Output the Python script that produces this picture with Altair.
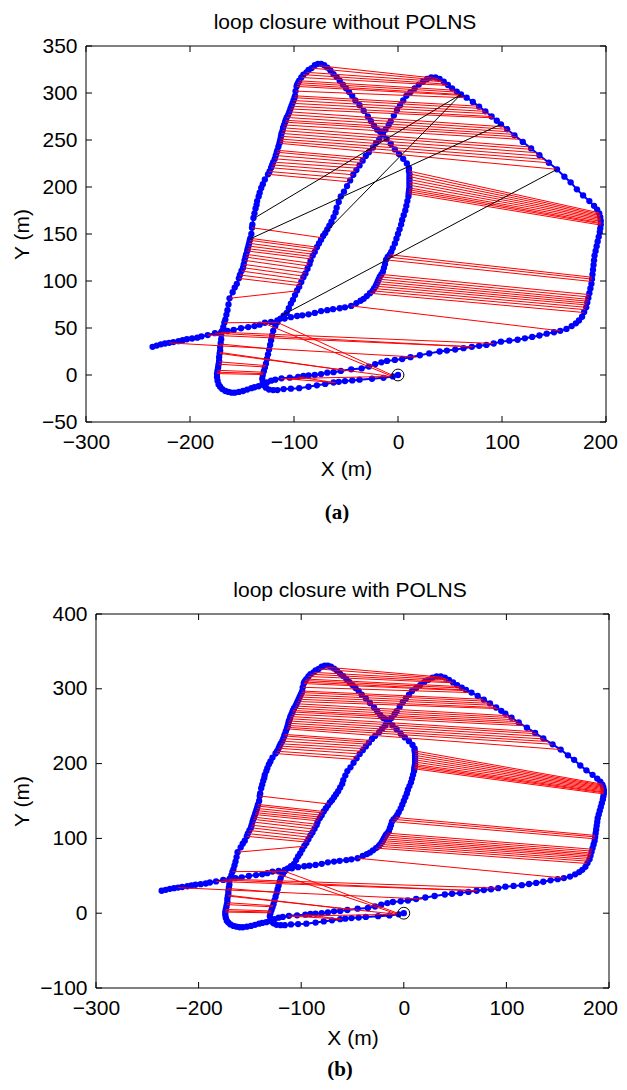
import altair as alt
import pandas as pd

# ---------------- trajectory (ordered segments, metres) ----------------
seg_lower_start = [(0, 0), (-5, -1.5), (-14, -3), (-25, -4), (-37, -5), (-44, -5.8), (-51, -6.5), (-57, -7.3),
                   (-62, -8), (-70, -9.5), (-78, -11), (-86, -12.5), (-95, -14), (-103, -14.5), (-110, -15),
                   (-116, -16), (-120, -16), (-124, -15.5), (-127, -13.5), (-129, -11), (-130, -8), (-130.5, -4)]
seg_hook_hump = [(-130, 0), (-129, 4), (-128, 8), (-127, 12), (-126, 17), (-125, 22), (-124, 27), (-123, 32),
                 (-122, 37), (-121, 42), (-120, 47), (-118, 52), (-116, 56), (-113, 60), (-110, 63), (-107, 66),
                 (-105, 71), (-103, 76), (-101, 80), (-99, 85), (-97, 90), (-95, 94), (-93, 99), (-91, 104),
                 (-89, 108), (-87, 113), (-85, 118), (-84, 122), (-82, 127), (-80, 131), (-78, 136), (-76, 140),
                 (-74, 144), (-72, 148), (-70, 151), (-68, 155), (-66, 159), (-64, 163), (-62, 168), (-60, 173),
                 (-59, 178), (-57, 184), (-55, 190), (-52, 195), (-49, 201), (-46, 207), (-43, 213), (-40, 218),
                 (-37, 223), (-34, 228), (-31, 233), (-28, 237), (-24, 242), (-21, 247), (-18, 251), (-14.5, 256),
                 (-12, 261), (-9, 266), (-7, 270), (-4, 276), (-1, 282), (2, 287), (5, 292), (8, 297), (12, 301),
                 (16, 305), (20, 309), (24, 312), (28, 315), (32, 316.5), (36, 316.5), (40, 315), (44, 312),
                 (48, 308.5)]
seg_right_loop = [(52, 305), (56.5, 301.5), (60.6, 298.6), (66, 295), (72, 290.5), (78, 285.5), (84, 280.5),
                  (90, 275), (95, 270.5), (99, 266.7), (105, 261.4), (112, 255), (120, 248), (128, 241),
                  (136, 233.8), (145, 225.8), (152.9, 218.8), (160, 211), (166, 205), (172, 197.5), (178, 191),
                  (184, 185), (188.5, 180), (191.5, 176), (193.5, 172), (194.5, 168), (195, 164), (195, 160),
                  (194.5, 156), (194, 152), (193, 147), (192, 142), (191, 137), (190, 132), (189, 127),
                  (188.5, 122), (188, 117), (187.5, 112), (187, 107), (186.5, 102), (186, 97), (185, 92),
                  (184, 87), (183, 82), (182, 77), (181, 72), (179, 67), (177, 62), (174, 58), (171, 55),
                  (167, 52), (162, 49), (156, 47), (150, 45.5), (143, 44), (136, 42), (129, 40.5), (122, 39),
                  (115, 37.5), (107, 36.5), (99, 35.5), (92, 33.5), (85, 32), (78, 31), (71, 30), (63, 28.5),
                  (55, 27), (47, 26), (40, 25), (30, 23), (21, 21), (12, 19), (4, 17), (-3, 16), (-10.6, 15),
                  (-16, 13.5), (-22, 11.4), (-28, 9), (-35, 7), (-45, 6), (-55, 4.3), (-62, 3), (-68, 2.5),
                  (-74, 1), (-80, 0), (-86, -0.5), (-91, -1), (-96, -2), (-104, -2.8), (-112, -3.5), (-118, -5),
                  (-122, -6), (-126, -8), (-130, -10), (-134, -12), (-138, -13), (-141, -14)]
seg_left_outer = [(-145, -15.5), (-149, -17), (-153, -18), (-157, -18.8), (-160, -18.8), (-163, -18), (-166, -17),
                  (-169, -15), (-171, -12.5), (-172.5, -10), (-173.5, -6), (-174, -2), (-174, 1.5), (-173.5, 5),
                  (-173, 8), (-172.5, 11.5), (-172, 15), (-172, 19), (-171.5, 23), (-171, 26), (-171, 30),
                  (-170.5, 34), (-170, 38), (-170, 43), (-169, 47), (-168, 51), (-167, 55.6), (-166, 59),
                  (-165, 64), (-164, 69), (-163, 75), (-162, 81.6), (-159, 88), (-157, 93), (-155, 97),
                  (-153, 102.8), (-152, 106.4), (-150.5, 110.6), (-149, 114.2), (-148.3, 117.7), (-147.5, 122),
                  (-146.7, 125.5), (-146, 128.4), (-145, 131.9), (-144.5, 134.4), (-143.8, 137.2),
                  (-143.2, 140.1), (-142.5, 143.3), (-142, 145.4), (-141, 150), (-140.4, 156.7), (-140, 160),
                  (-139, 167), (-138, 172), (-137, 177), (-136, 181), (-135.5, 185), (-134, 190), (-133, 194),
                  (-131.5, 199), (-130, 203), (-128, 208), (-125, 213.5), (-123.5, 216.5), (-122, 220.5),
                  (-121, 223.5), (-120, 226.5), (-118.5, 230), (-117.5, 233.5), (-116.5, 237), (-116, 239),
                  (-115, 243), (-114, 246.5), (-113.5, 248.5), (-113, 251), (-112.5, 254), (-112, 257),
                  (-111, 260), (-110.5, 263), (-109.5, 266), (-108.5, 269), (-108, 271), (-107, 274),
                  (-105.5, 277), (-104.5, 280), (-103.5, 283), (-102.5, 286), (-101.5, 289), (-100.5, 292),
                  (-99.5, 295), (-99, 297), (-98.5, 302), (-97.5, 307), (-97, 309), (-96, 311), (-95, 313),
                  (-93, 316.5), (-91, 319.5), (-88, 322), (-86, 324.5), (-83, 326.5), (-80, 329.5), (-77, 331),
                  (-74, 331), (-71, 329.5)]
seg_inner_tail = [(-68, 327), (-65, 324), (-62, 320), (-59, 317), (-56, 313), (-53, 309), (-50, 305), (-47, 301),
                  (-44, 297), (-41, 292), (-37, 287), (-33, 281), (-29, 275), (-26, 270), (-23, 265), (-20, 261),
                  (-17, 258.5), (-14.5, 256), (-11, 251), (-7, 246), (-3, 240), (1, 235), (5, 230), (8.5, 225),
                  (10.5, 220), (10.5, 217), (11, 214), (11, 211), (11, 208), (11, 205), (11, 202), (11, 199),
                  (10.7, 197), (10.5, 195), (10.3, 193), (10, 190), (9, 185), (8, 180), (7, 175), (5.5, 170),
                  (4, 165), (3, 160), (1.5, 155), (0, 150), (-1.5, 145), (-3, 140), (-5, 135), (-6.5, 131),
                  (-8, 128), (-10, 125.5), (-11.5, 122.5), (-12.5, 118), (-13.5, 114), (-14.5, 110), (-16, 107),
                  (-17.5, 104.5), (-18.5, 102), (-19.5, 99.5), (-20.5, 97), (-21.5, 94.5), (-23, 92),
                  (-24.5, 89.5), (-27, 87), (-30, 84), (-33, 81), (-36, 79), (-40, 76.5), (-45, 73.5), (-51, 72),
                  (-56, 71), (-62.5, 70), (-68, 69), (-74, 68), (-80, 66), (-86, 64.5), (-92, 63.5), (-97, 62.8),
                  (-103, 61.5), (-109, 60), (-116, 58), (-122, 56.5), (-128, 55.6), (-133, 53.5), (-138, 52),
                  (-144, 51), (-151, 49.7), (-158, 48), (-164, 46.8), (-170, 45.5), (-176, 44.5), (-183, 42.5),
                  (-189, 41), (-193, 39.7), (-198, 38.8), (-203, 38), (-207, 37), (-211, 36), (-216, 35),
                  (-220, 34.2), (-224, 33.5), (-228, 32.6), (-232, 31.3), (-236, 30)]

# ---------------- loop-closure links (x1, y1, x2, y2) ----------------
links_top = [(-76, 329, 38, 315.5), (-83, 326.5, 41, 313.5), (-88, 322, 43, 312), (-91, 319.5, 46, 309.5),
             (-93, 316.5, 48, 308), (-95, 313, 54, 303), (-96, 311, 56, 301), (-97, 309, 59, 298.5),
             (-97.5, 307, 61, 297.5), (-98.5, 302, 64, 295), (-99, 297, 77, 286), (-99.5, 295, 80, 283.5),
             (-100.5, 292, 84, 280.5), (-101.5, 289, 87, 278), (-102.5, 286, 90, 275), (-103.5, 283, 92, 273.5),
             (-104.5, 280, 102, 264), (-105.5, 277, 105, 261.4), (-107, 274, 108, 258.7), (-108, 271, 111, 256),
             (-108.5, 269, 114, 253.4), (-109.5, 266, 117, 250.7), (-110.5, 263, 126, 242.7),
             (-111, 260, 129, 240), (-112, 257, 133, 236.5), (-112.5, 254, 137, 232.9), (-113, 251, 141, 229.4),
             (-113.5, 248.5, 145, 225.8), (-114, 246.5, 152.9, 218.8)]
links_mid_left = [(-116, 239, -32, 231), (-116.5, 237, -33.5, 228.5), (-117.5, 233.5, -35, 226),
                  (-118.5, 230, -37, 223), (-120, 226.5, -39, 220), (-121, 223.5, -41, 216.5),
                  (-122, 220.5, -43, 213), (-123.5, 216.5, -45, 209), (-125, 213.5, -47, 205.5)]
links_low_left = [(-140.4, 156.7, -73, 146), (-142, 145.4, -78, 136), (-142.5, 143.3, -79, 134),
                  (-143.2, 140.1, -80, 131), (-143.8, 137.2, -81.5, 128.5), (-144.5, 134.4, -82.5, 126),
                  (-145, 131.9, -83.5, 123.5), (-146, 128.4, -85, 119), (-146.7, 125.5, -86, 116),
                  (-147.5, 122, -87.5, 112.5), (-148.3, 117.7, -88.5, 108.5), (-149, 114.2, -90, 105),
                  (-150.5, 110.6, -91.5, 101.5), (-152, 106.4, -93, 98), (-153, 102.8, -94, 95),
                  (-162, 81.6, -97, 89.5)]
links_right_upper = [(10.5, 217, 193.5, 172.5), (11, 214, 194, 171), (11, 211, 194.5, 169.5),
                     (11, 208, 194.5, 168), (11, 205, 195, 166.5), (11, 202, 195, 165), (11, 199, 195, 163.5),
                     (10.7, 197, 195, 162), (10.5, 195, 195, 161), (10.3, 193, 195, 159.5)]
links_right_lower = [(-8, 128, 186.5, 104), (-10, 125.5, 186.5, 102), (-11.5, 122.5, 186, 99.5),
                     (-16, 107, 184, 85.5), (-17.5, 104.5, 183.5, 83), (-18.5, 102, 183, 80.5),
                     (-19.5, 99.5, 182.5, 78.5), (-20.5, 97, 182, 76.5), (-21.5, 94.5, 181.5, 74.5),
                     (-23, 92, 181, 72), (-24.5, 89.5, 180, 69.5), (-27, 87, 178.5, 66.5), (-45, 73.5, 156, 47)]
links_bottom = [(-167, 55.6, -116, 56), (-130, 55.6, -6.7, -1), (-116, 56, -5, -0.5), (-183, 42.5, 72, 30),
                (-170, 45.5, 92, 33.5), (-176, 44.5, 71, 30), (-220, 34.2, 18, 19), (-171, 33, -125, 28),
                (-171, 24, -52, 5), (-171.5, 23, -10, -1), (-172, 14, -127, 10), (-172.5, 11.5, -127.5, 8.5),
                (-173.5, 5, -129, 3), (-174, 3, -129.5, 1.5), (-174, 1.5, -130, 0.5), (-113, -4, -8, -1.5),
                (-108, -4, -60, -8), (-96, -2, -62, -8)]
links_false = [(60.6, 298.6, -137.5, 167.3), (60.6, 298.6, -70, 151.4), (99, 266.7, -143, 144.4),
               (152.9, 218.8, -112.5, 62.8)]

start_x = [0]
start_y = [0]
x_ticks = [-300, -200, -100, 0, 100, 200]
ya_ticks = [-50, 0, 50, 100, 150, 200, 250, 300, 350]
yb_ticks = [-100, 0, 100, 200, 300, 400]
panel_titles = ["loop closure without POLNS", "loop closure with POLNS"]
panel_labels = ["(a)", "(b)"]

# ---------------- tables ----------------
traj_pts = seg_lower_start + seg_hook_hump + seg_right_loop + seg_left_outer + seg_inner_tail
traj_df = pd.DataFrame({"x": [p[0] for p in traj_pts], "y": [p[1] for p in traj_pts],
                        "i": list(range(len(traj_pts)))})
red_all = links_top + links_mid_left + links_low_left + links_right_upper + links_right_lower + links_bottom
red_df = pd.DataFrame(red_all, columns=["x1", "y1", "x2", "y2"])
black_df = pd.DataFrame(links_false, columns=["x1", "y1", "x2", "y2"])
start_df = pd.DataFrame({"x": start_x, "y": start_y})

FONT = "Liberation Sans"
FS = 21


def panel(title, ydom, yticks, x0, W, H, with_false, label, title_x, label_x, label_y,
          xlp, xtp, ytp, last_shift):
    GW = x0 + W  # group width; plot frame spans x0..GW
    xs = alt.Scale(domain=[-300, 200], nice=False, zero=False, range=[x0, GW])
    ys = alt.Scale(domain=ydom, nice=False, zero=False)
    common = dict(domain=False, ticks=False, grid=False, labelFont=FONT, labelFontSize=FS,
                  labelColor="black", labelFlush=False, labelOverlap=False, titleFont=FONT,
                  titleFontSize=FS, titleFontWeight="normal", titleColor="black")
    xax = alt.Axis(values=x_ticks, title="X (m)", labelPadding=xlp, titlePadding=xtp,
                   labelOffset=alt.condition("datum.value == 200", alt.value(last_shift), alt.value(0)),
                   **common)
    yax = alt.Axis(values=yticks, title="Y (m)", labelPadding=9, titlePadding=ytp, offset=-x0, **common)

    def X(f):
        return alt.X(f, type="quantitative", scale=xs, axis=xax)

    def Y(f):
        return alt.Y(f, type="quantitative", scale=ys, axis=yax)

    line = alt.Chart(traj_df).mark_line(color="#0000ff", strokeWidth=2).encode(
        x=X("x"), y=Y("y"), order=alt.Order("i:Q"))
    dots = alt.Chart(traj_df).mark_circle(color="#0000ff", size=40, opacity=1).encode(x=X("x"), y=Y("y"))
    red = alt.Chart(red_df).mark_rule(color="#ff0000", strokeWidth=1).encode(
        x=X("x1"), y=Y("y1"), x2="x2:Q", y2="y2:Q")
    layers = [line, dots, red]
    if with_false:
        blk = alt.Chart(black_df).mark_rule(color="black", strokeWidth=1).encode(
            x=X("x1"), y=Y("y1"), x2="x2:Q", y2="y2:Q")
        layers.append(blk)
    start = alt.Chart(start_df).mark_point(shape="circle", size=140, filled=False, color="black",
                                           strokeWidth=1, opacity=1).encode(x=X("x"), y=Y("y"))
    layers.append(start)
    frame = alt.Chart(pd.DataFrame({"f": [0]})).mark_rect(
        fillOpacity=0, stroke="black", strokeWidth=1).encode(
        x=alt.value(x0), x2=alt.value(GW), y=alt.value(0), y2=alt.value(H))
    xt = pd.DataFrame({"t": x_ticks})
    yt = pd.DataFrame({"t": yticks})
    tb = alt.Chart(xt).mark_rule(color="black", strokeWidth=1).encode(
        x=X("t"), y=alt.value(H), y2=alt.value(H - 6))
    tt = alt.Chart(xt).mark_rule(color="black", strokeWidth=1).encode(
        x=X("t"), y=alt.value(0), y2=alt.value(6))
    tl = alt.Chart(yt).mark_rule(color="black", strokeWidth=1).encode(
        y=Y("t"), x=alt.value(x0), x2=alt.value(x0 + 6))
    tr = alt.Chart(yt).mark_rule(color="black", strokeWidth=1).encode(
        y=Y("t"), x=alt.value(GW), x2=alt.value(GW - 6))
    ttl = alt.Chart(pd.DataFrame({"t": [title]})).mark_text(
        font=FONT, fontSize=FS, color="black", baseline="middle").encode(
        text="t:N", x=alt.value(title_x), y=alt.value(-23))
    lab = alt.Chart(pd.DataFrame({"label": [label]})).mark_text(
        font="Liberation Serif", fontSize=21, fontWeight="bold", color="black", baseline="middle"
    ).encode(text="label:N", x=alt.value(label_x), y=alt.value(label_y))
    layers += [frame, tb, tt, tl, tr, ttl, lab]
    return alt.layer(*layers).properties(width=GW, height=H)


pa = panel(panel_titles[0], [-50, 350], ya_ticks, 0, 520, 376, True, panel_labels[0],
           259, 251, 467, 9, 6.5, 9, -6)
pb = panel(panel_titles[1], [-100, 400], yb_ticks, 10, 513, 374, False, panel_labels[1],
           264, 254, 456, 9.5, 9, 7, -9)

chart = alt.VConcatChart(vconcat=[pa, pb], spacing=192, bounds="flush").properties(
    padding={"left": 3, "top": 4, "right": 0, "bottom": 0}
).configure_view(stroke="transparent", strokeWidth=0)

chart.save("out.html", embed_options={"renderer": "svg", "actions": False})
